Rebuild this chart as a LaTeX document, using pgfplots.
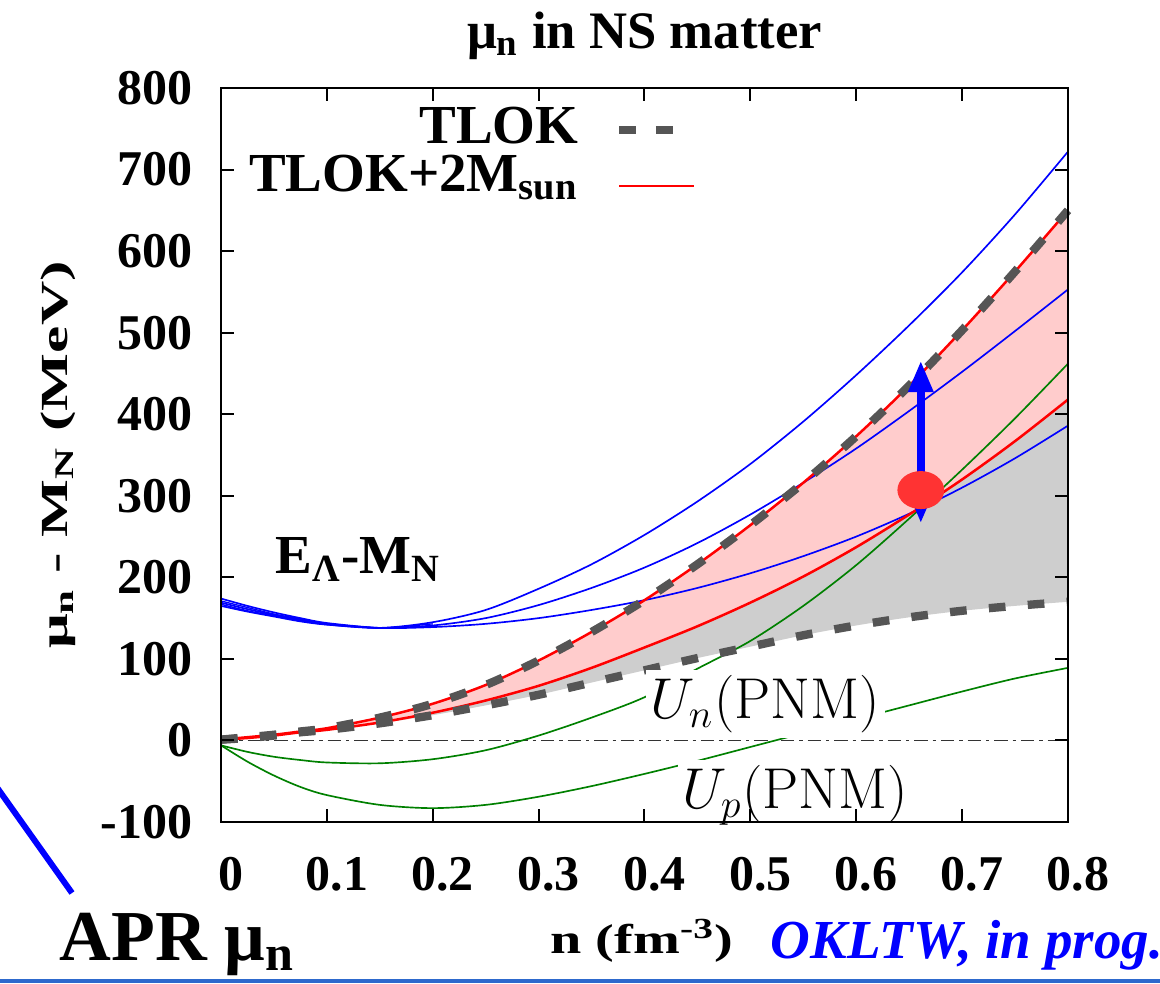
\documentclass[border=0pt]{standalone}
\usepackage[no-math]{fontspec}
\setmainfont{Liberation Serif}
\newfontfamily\ylabfont[FakeStretch=1.6]{Liberation Serif}
\newfontfamily\xlabfont[FakeStretch=1.35]{Liberation Serif}
\usepackage{pgfplots}
\pgfplotsset{compat=1.18}
\usepackage{pgfplotstable}
\usepgfplotslibrary{fillbetween}
\usetikzlibrary{arrows.meta}
\definecolor{tlokgray}{RGB}{85,85,85}
\definecolor{fillpink}{RGB}{255,204,204}
\definecolor{fillgray}{RGB}{206,206,206}
\definecolor{lblue}{RGB}{0,0,255}
\definecolor{lgreen}{RGB}{0,128,0}
\definecolor{lred}{RGB}{255,0,0}
\definecolor{dotred}{RGB}{255,51,51}
\definecolor{sepblue}{RGB}{45,105,205}

\pgfplotstableread{
n     up   redlo dlo  gUn  gUp  bA   bB   bC   bD   bE
0     1    1     1    -6   -6   165  169  174  167  171
0.025 4    3     3    -14  -26  158  161  165  159  163
0.05  7    6     6    -20  -43  152  154  157  153  155
0.075 11   10    10   -24  -57  146  148  150  147  149
0.1   15   13    13   -27  -67  142  143  144  142  143
0.15  28   22    21   -28  -79  138  138  138  138  138
0.2   45   34    31   -23  -83  145  141  139  143  140
0.25  68   49    43   -12  -79  160  150  143  155  146
0.3   98   67    56   6    -69  186  166  150  175  158
0.35  133  89    71   28   -56  216  187  160  201  173
0.4   172  114   86   53   -41  252  212  172  231  192
0.45  216  140   101  88   -25  293  242  187  268  214
0.5   264  169   115  122  -8   339  277  205  310  241
0.55  316  201   129  165  9    391  316  226  355  271
0.6   373  237   141  215  26   448  358  250  404  304
0.65  435  277   151  272  43   509  404  278  457  341
0.7   503  320   159  332  60   574  452  310  513  381
0.75  575  367   165  395  76   645  502  346  573  424
0.8   650  418   170  462  89   722  553  386  637  470
}\tbl

\begin{document}
\begin{tikzpicture}
\begin{axis}[
  at={(0pt,0pt)}, anchor=south west,
  width=254.1pt, height=220.2pt, scale only axis,
  xmin=0, xmax=0.8, ymin=-100, ymax=800,
  clip=false, axis on top,
  xtick={0,0.1,0.2,0.3,0.4,0.5,0.6,0.7,0.8},
  xticklabels={0,0.1,0.2,0.3,0.4,0.5,0.6,0.7,0.8},
  ytick={-100,0,100,200,300,400,500,600,700,800},
  yticklabels={-100,0,100,200,300,400,500,600,700,800},
  tick align=inside, major tick length=4pt,
  every tick/.style={black, line width=0.6pt},
  axis line style={line width=0.6pt},
  ticklabel style={font=\fontsize{15}{15}\selectfont\bfseries},
  xticklabel style={yshift=-7pt, xshift=3pt},
  yticklabel style={xshift=-5pt},
  title={\bfseries μ\textsubscript{n} in NS matter},
  title style={at={(axis description cs:0.5,1.0545)}, anchor=base, yshift=-6pt, inner sep=0pt, font=\fontsize{15.8}{15.8}\selectfont},
  xlabel={\xlabfont\bfseries n (fm\textsuperscript{-3})},
  xlabel style={at={(axis description cs:0.497,-0.1785)}, anchor=base, inner sep=0pt, font=\fontsize{12.5}{12.5}\selectfont},
  ylabel={\ylabfont\bfseries μ\textsubscript{n} - M\textsubscript{N} (MeV)},
  ylabel style={at={(axis description cs:-0.1818,0.5)}, anchor=base, inner sep=0pt, font=\fontsize{11.5}{11.5}\selectfont},
  legend style={draw=none, fill=none, at={(axis cs:0.026,780)}, anchor=north west, inner sep=0pt,
    font=\fontsize{16.5}{16.5}\selectfont\bfseries,
    nodes={inner sep=0pt, text height=11.5pt, text depth=2.9pt},
    /tikz/every odd column/.append style={column sep=11pt}},
  legend cell align=right, legend plot pos=right,
]
\addlegendimage{legend image code/.code={\draw[tlokgray, line width=2.5pt, dash pattern=on 5pt off 6pt] (0pt,-0.4pt) -- (17pt,-0.4pt);}}
\addlegendentry{TLOK}
\addlegendimage{legend image code/.code={\draw[lred, line width=0.75pt] (0pt,-2.7pt) -- (22.5pt,-2.7pt);}}
\addlegendentry{TLOK+2M\textsubscript{sun}}

\addplot[draw=none, name path=U, smooth, forget plot] table[x=n,y=up]{\tbl};
\addplot[draw=none, name path=RL, smooth, forget plot] table[x=n,y=redlo]{\tbl};
\addplot[draw=none, name path=DL, smooth, forget plot] table[x=n,y=dlo]{\tbl};
\addplot[fill=fillgray, draw=none, forget plot] fill between[of=U and DL];
\addplot[fill=fillpink, draw=none, forget plot] fill between[of=U and RL];

\addplot[black!80, line width=0.5pt, dash pattern=on 4pt off 1.5pt on 1pt off 1.5pt, forget plot] coordinates {(0,0) (0.8,0)};

\addplot[lgreen, line width=0.5pt, smooth, forget plot] table[x=n,y=gUn]{\tbl};
\addplot[lgreen, line width=0.5pt, smooth, forget plot] table[x=n,y=gUp]{\tbl};

\addplot[lblue, line width=0.5pt, smooth, forget plot] table[x=n,y=bA]{\tbl};
\addplot[lblue, line width=0.5pt, smooth, forget plot] table[x=n,y=bB]{\tbl};
\addplot[lblue, line width=0.5pt, smooth, forget plot] table[x=n,y=bC]{\tbl};
\addplot[lblue, line width=0.4pt, smooth, restrict x to domain=0:0.2, forget plot] table[x=n,y=bD]{\tbl};
\addplot[lblue, line width=0.4pt, smooth, restrict x to domain=0:0.2, forget plot] table[x=n,y=bE]{\tbl};

\addplot[lred, line width=0.75pt, smooth, forget plot] table[x=n,y=up]{\tbl};
\addplot[lred, line width=0.75pt, smooth, forget plot] table[x=n,y=redlo]{\tbl};

\addplot[tlokgray, line width=2.5pt, dash pattern=on 5pt off 6.7pt, smooth, forget plot] table[x=n,y=up]{\tbl};
\addplot[tlokgray, line width=2.5pt, dash pattern=on 5pt off 6.7pt, smooth, forget plot] table[x=n,y=dlo]{\tbl};

\node[anchor=base west, inner sep=0pt, font=\fontsize{16.5}{16.5}\selectfont\bfseries] at (axis cs:0.051,205) {E\textsubscript{Λ}-M\textsubscript{N}};
\node[anchor=base west, fill=white, inner sep=1.5pt, font=\fontsize{17.28}{17.28}\selectfont] at (axis cs:0.4005,27) {$U_n(\mathrm{PNM})$};
\coordinate (uplab) at (axis cs:0.4307,-83.4);

\addplot[lblue, line width=2.4pt, {Triangle[width=7pt,length=9.5pt]}-{Triangle[width=7pt,length=9.5pt]}, forget plot] coordinates {(0.661,266) (0.661,466)};
\addplot[dotred, only marks, mark=*, mark size=5.5pt, mark options={xscale=1.24, draw=none, fill=dotred}, forget plot] coordinates {(0.661,307)};
\end{axis}
\node[anchor=base west, fill=white, inner sep=1.5pt, font=\fontsize{17.28}{17.28}\selectfont] at (uplab) {$U_p(\mathrm{PNM})$};
\draw[lblue, line width=1.8pt] (-70pt,14.3pt) -- (-44.7pt,-21.3pt);
\draw[sepblue, line width=1pt] (-66.3pt,-47.7pt) -- (281.7pt,-47.7pt);
\node[anchor=base west, inner sep=0pt, font=\fontsize{21.5}{21.5}\selectfont\bfseries] at (-48.6pt,-41.4pt) {APR μ\textsubscript{n}};
\node[anchor=base west, inner sep=0pt, text=lblue, font=\fontsize{16.5}{16.5}\selectfont\bfseries\itshape] at (164.7pt,-40.8pt) {OKLTW, in prog.};
\pgfresetboundingbox
\useasboundingbox (-66.3pt,-48.3pt) rectangle (281.7pt,246.6pt);
\end{tikzpicture}
\end{document}
